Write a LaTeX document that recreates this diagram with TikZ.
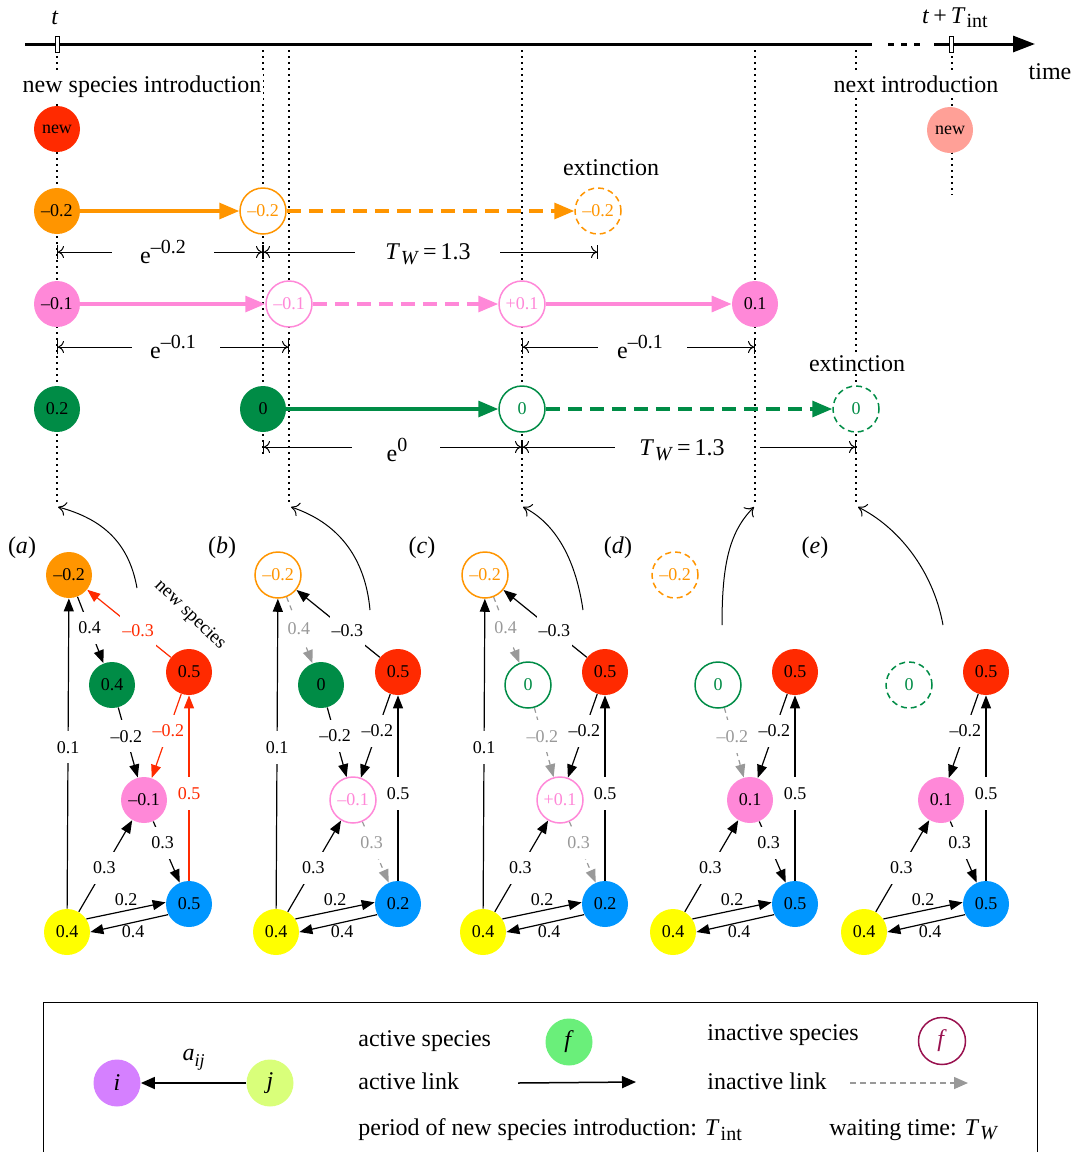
\documentclass[tikz,border=0pt]{standalone}
\usepackage{fontspec}
\setmainfont{Liberation Serif}
\usetikzlibrary{arrows.meta}
\definecolor{cOr}{HTML}{FF9500}
\definecolor{cRed}{HTML}{FF2A00}
\definecolor{cPk}{HTML}{FF88D8}
\definecolor{cGr}{HTML}{008C46}
\definecolor{cBl}{HTML}{0096FF}
\definecolor{cYe}{HTML}{FFFF00}
\definecolor{cNew}{HTML}{FFA097}
\definecolor{cIn}{HTML}{999999}
\definecolor{cPu}{HTML}{D580FF}
\definecolor{cJ}{HTML}{D9FF7A}
\definecolor{cF}{HTML}{6AEF7A}
\definecolor{cMa}{HTML}{99114F}
\newcommand{\fsN}{\fontsize{9}{10}\selectfont}
\newcommand{\fsL}{\fontsize{12}{14}\selectfont}
\newcommand{\myTw}{\textit{T}\kern0.3pt\raisebox{-0.4ex}{\fontsize{10}{12}\selectfont\textit{W}}}
\newcommand{\myTint}{\textit{T}\kern0.5pt\raisebox{-0.4ex}{\fontsize{10}{12}\selectfont int}}
\newcommand{\myExp}[1]{e\raisebox{0.9ex}{\fontsize{10}{12}\selectfont #1}}
\tikzset{
 sp/.style={circle, minimum size=23pt, inner sep=0pt, font=\fsN},
 fs/.style={sp, fill=#1, draw=none, text=black},
 os/.style={sp, fill=white, draw=#1, text=#1, line width=0.75pt},
 ds/.style={os=#1, dash pattern=on 3pt off 2pt},
 lbl/.style={font=\fsL, inner sep=1pt},
 wlbl/.style={lbl, fill=white},
 tline/.style={line width=1.6pt, -{Triangle[length=10pt,width=8pt]}},
 tdash/.style={tline, dash pattern=on 7pt off 4pt},
 vdot/.style={line width=0.6pt, dash pattern=on 0.8pt off 2.2pt},
 dimL/.style={line width=0.5pt, {Bar[width=7pt,sep=0pt]To[length=3pt,width=6pt]}-},
 dimR/.style={line width=0.5pt, -{To[length=3pt,width=6pt]Bar[width=7pt,sep=0pt]}},
 ed/.style={line width=0.6pt, -{Triangle[length=6.5pt,width=5pt]}},
 ined/.style={ed, cIn, dash pattern=on 2.5pt off 2pt},
 el/.style={font=\fsN, fill=white, inner xsep=1pt, inner ysep=5pt},
 elb/.style={font=\fsN, inner sep=1pt},
 curv/.style={line width=0.5pt, -{To[length=4pt,width=7pt]}},
}
\begin{document}
\begin{tikzpicture}[x=0.5pt,y=-0.5pt]
\useasboundingbox (0,0) rectangle (1075,1152);
% ---------- axis ----------
\coordinate (ax0) at (25,44);
\coordinate (ax1) at (872,44);
\coordinate (ad0) at (888,44);
\coordinate (ad1) at (923,44);
\coordinate (ax2) at (934,44);
\coordinate (ax3) at (1035,44);
\draw[line width=1.5pt] (ax0) -- (ax1);
\draw[line width=1.5pt, dash pattern=on 3pt off 3.5pt] (ad0) -- (ad1);
\draw[line width=1.5pt, -{Triangle[length=11pt,width=8pt]}] (ax2) -- (ax3);
% ---------- dotted verticals ----------
\foreach \x/\yb in {57/505, 263/455, 289/505, 522/505, 755/505, 856/505, 952/195}{
  \coordinate (vt\x) at (\x,44);
  \coordinate (vb\x) at (\x,\yb);
  \draw[vdot] (vt\x) -- (vb\x);
}
\node[draw, fill=white, minimum width=2pt, minimum height=8pt, inner sep=0pt, line width=0.5pt] (tk1) at (57,44) {};
\node[draw, fill=white, minimum width=2pt, minimum height=8pt, inner sep=0pt, line width=0.5pt] (tk2) at (951,44) {};
\node[lbl] (tlab) at (55,18) {\textit{t}};
\node[lbl] (tTlab) at (955,18) {\textit{t}\,+\,\myTint};
\node[lbl] (time) at (1050,72) {time};
\node[wlbl] (nsi) at (142,87) {new species introduction};
\node[wlbl] (nxi) at (916,84) {next introduction};
\node[wlbl] (ext1) at (611,168) {extinction};
\node[wlbl] (ext2) at (857,364) {extinction};
% ---------- timeline species ----------
\node[fs=cRed] (n1) at (57,129) {new};
\node[fs=cNew] (n2) at (950,130) {new};
\node[fs=cOr] (o1) at (57,211) {--0.2};
\node[os=cOr] (o2) at (263,211) {--0.2};
\node[ds=cOr] (o3) at (598,211) {--0.2};
\node[fs=cPk] (p1) at (57,304) {--0.1};
\node[os=cPk] (p2) at (289,304) {--0.1};
\node[os=cPk] (p3) at (522,304) {+0.1};
\node[fs=cPk] (p4) at (755,304) {0.1};
\node[fs=cGr] (g1) at (57,409) {0.2};
\node[fs=cGr] (g2) at (263,409) {0};
\node[os=cGr] (g3) at (522,409) {0};
\node[ds=cGr] (g4) at (856,409) {0};
\draw[tline, cOr] (o1) -- (o2);
\draw[tdash, cOr] (o2) -- (o3);
\draw[tline, cPk] (p1) -- (p2);
\draw[tdash, cPk] (p2) -- (p3);
\draw[tline, cPk] (p3) -- (p4);
\draw[tline, cGr] (g2) -- (g3);
\draw[tdash, cGr] (g3) -- (g4);
% ---------- dimensions ----------
\coordinate (d1a) at (57,252);  \coordinate (d1b) at (112,252);
\coordinate (d1c) at (214,252); \coordinate (d1d) at (263,252);
\node[lbl] (d1l) at (163,252) {\myExp{--0.2}};
\draw[dimL] (d1a) -- (d1b); \draw[dimR] (d1c) -- (d1d);
\coordinate (d2a) at (263,252); \coordinate (d2b) at (355,252);
\coordinate (d2c) at (500,252); \coordinate (d2d) at (598,252);
\node[lbl] (d2l) at (428,254) {\myTw\,=\,1.3};
\draw[dimL] (d2a) -- (d2b); \draw[dimR] (d2c) -- (d2d);
\coordinate (d3a) at (57,347);  \coordinate (d3b) at (132,347);
\coordinate (d3c) at (220,347); \coordinate (d3d) at (289,347);
\node[lbl] (d3l) at (173,347) {\myExp{--0.1}};
\draw[dimL] (d3a) -- (d3b); \draw[dimR] (d3c) -- (d3d);
\coordinate (d4a) at (522,347); \coordinate (d4b) at (598,347);
\coordinate (d4c) at (687,347); \coordinate (d4d) at (755,347);
\node[lbl] (d4l) at (640,347) {\myExp{--0.1}};
\draw[dimL] (d4a) -- (d4b); \draw[dimR] (d4c) -- (d4d);
\coordinate (d5a) at (263,447); \coordinate (d5b) at (352,447);
\coordinate (d5c) at (440,447); \coordinate (d5d) at (522,447);
\node[lbl] (d5l) at (397,450) {\myExp{0}};
\draw[dimL] (d5a) -- (d5b); \draw[dimR] (d5c) -- (d5d);
\coordinate (d6a) at (522,447); \coordinate (d6b) at (615,447);
\coordinate (d6c) at (760,447); \coordinate (d6d) at (856,447);
\node[lbl] (d6l) at (682,450) {\myTw\,=\,1.3};
\draw[dimL] (d6a) -- (d6b); \draw[dimR] (d6c) -- (d6d);
% ---------- curved arrows ----------
\coordinate (ca0) at (137,588); \coordinate (ca1) at (58,507);
\coordinate (cb0) at (370,610); \coordinate (cb1) at (291,507);
\coordinate (cc0) at (583,610); \coordinate (cc1) at (523,507);
\coordinate (cd0) at (722,625); \coordinate (cd1) at (754,507);
\coordinate (ce0) at (943,625); \coordinate (ce1) at (858,507);
\draw[curv] (ca0) .. controls +(-8,-45) and +(45,12) .. (ca1);
\draw[curv] (cb0) .. controls +(-5,-55) and +(45,15) .. (cb1);
\draw[curv] (cc0) .. controls +(-8,-55) and +(30,15) .. (cc1);
\draw[curv] (cd0) .. controls +(0,-60) and +(-25,25) .. (cd1);
\draw[curv] (ce0) .. controls +(-10,-55) and +(40,20) .. (ce1);
% ---------- panel labels ----------
\node[lbl] (pa) at (22,548) {(\textit{a})};
\node[lbl] (pb) at (222,548) {(\textit{b})};
\node[lbl] (pc) at (422,548) {(\textit{c})};
\node[lbl] (pd) at (618,548) {(\textit{d})};
\node[lbl] (pe) at (815,548) {(\textit{e})};
% ---------- panel a ----------
\node[fs=cOr] (a-or) at (69,575) {--0.2};
\node[fs=cGr] (a-gr) at (112,685) {0.4};
\node[fs=cRed] (a-rd) at (189,672) {0.5};
\node[fs=cPk] (a-pk) at (144,800) {--0.1};
\node[fs=cBl] (a-bl) at (189,904) {0.5};
\node[fs=cYe] (a-ye) at (67,932) {0.4};
\node[font=\fontsize{9.5}{11}\selectfont, rotate=-44] (a-ns) at (190,615) {new species};
\draw[ed] (a-ye) -- node[el,pos=0.52]{0.1} (a-or);
\draw[ed] (a-or) -- node[el,pos=0.47]{0.4} (a-gr);
\draw[ed,cRed] (a-rd) -- node[el,pos=0.39]{--0.3} (a-or);
\draw[ed] (a-gr) -- node[el,pos=0.41]{--0.2} (a-pk);
\draw[ed,cRed] (a-rd) -- node[el,pos=0.44]{--0.2} (a-pk);
\draw[ed,cRed] (a-bl) -- node[el,pos=0.47]{0.5} (a-rd);
\draw[ed] (a-pk) -- node[el,pos=0.35]{0.3} (a-bl);
\draw[ed] (a-ye) -- node[el,pos=0.48]{0.3} (a-pk);
\draw[ed] (a-ye.34) -- node[elb,above=1pt,pos=0.5]{0.2} (a-bl.176);
\draw[ed] (a-bl.207) -- node[elb,below=0pt,pos=0.45]{0.4} (a-ye.0);
% ---------- panel b ----------
\begin{scope}[shift={(209,0)}]
\node[os=cOr] (b-or) at (69,575) {--0.2};
\node[fs=cGr] (b-gr) at (112,685) {0};
\node[fs=cRed] (b-rd) at (189,672) {0.5};
\node[os=cPk] (b-pk) at (144,800) {--0.1};
\node[fs=cBl] (b-bl) at (189,904) {0.2};
\node[fs=cYe] (b-ye) at (67,932) {0.4};
\draw[ed] (b-ye) -- node[el,pos=0.52]{0.1} (b-or);
\draw[ined] (b-or) -- node[el,pos=0.47,text=cIn]{0.4} (b-gr);
\draw[ed] (b-rd) -- node[el,pos=0.39]{--0.3} (b-or);
\draw[ed] (b-gr) -- node[el,pos=0.41]{--0.2} (b-pk);
\draw[ed] (b-rd) -- node[el,pos=0.44]{--0.2} (b-pk);
\draw[ed] (b-bl) -- node[el,pos=0.47]{0.5} (b-rd);
\draw[ined] (b-pk) -- node[el,pos=0.35,text=cIn]{0.3} (b-bl);
\draw[ed] (b-ye) -- node[el,pos=0.48]{0.3} (b-pk);
\draw[ed] (b-ye.34) -- node[elb,above=1pt,pos=0.5]{0.2} (b-bl.176);
\draw[ed] (b-bl.207) -- node[elb,below=0pt,pos=0.45]{0.4} (b-ye.0);
\end{scope}
% ---------- panel c ----------
\begin{scope}[shift={(416,0)}]
\node[os=cOr] (c-or) at (69,575) {--0.2};
\node[os=cGr] (c-gr) at (112,685) {0};
\node[fs=cRed] (c-rd) at (189,672) {0.5};
\node[os=cPk] (c-pk) at (144,800) {+0.1};
\node[fs=cBl] (c-bl) at (189,904) {0.2};
\node[fs=cYe] (c-ye) at (67,932) {0.4};
\draw[ed] (c-ye) -- node[el,pos=0.52]{0.1} (c-or);
\draw[ined] (c-or) -- node[el,pos=0.47,text=cIn]{0.4} (c-gr);
\draw[ed] (c-rd) -- node[el,pos=0.39]{--0.3} (c-or);
\draw[ined] (c-gr) -- node[el,pos=0.41,text=cIn]{--0.2} (c-pk);
\draw[ed] (c-rd) -- node[el,pos=0.44]{--0.2} (c-pk);
\draw[ed] (c-bl) -- node[el,pos=0.47]{0.5} (c-rd);
\draw[ined] (c-pk) -- node[el,pos=0.35,text=cIn]{0.3} (c-bl);
\draw[ed] (c-ye) -- node[el,pos=0.48]{0.3} (c-pk);
\draw[ed] (c-ye.34) -- node[elb,above=1pt,pos=0.5]{0.2} (c-bl.176);
\draw[ed] (c-bl.207) -- node[elb,below=0pt,pos=0.45]{0.4} (c-ye.0);
\end{scope}
% ---------- panel d ----------
\begin{scope}[shift={(606,0)}]
\node[ds=cOr] (d-or) at (69,575) {--0.2};
\node[os=cGr] (d-gr) at (112,685) {0};
\node[fs=cRed] (d-rd) at (189,672) {0.5};
\node[fs=cPk] (d-pk) at (144,800) {0.1};
\node[fs=cBl] (d-bl) at (189,904) {0.5};
\node[fs=cYe] (d-ye) at (67,932) {0.4};
\draw[ined] (d-gr) -- node[el,pos=0.41,text=cIn]{--0.2} (d-pk);
\draw[ed] (d-rd) -- node[el,pos=0.44]{--0.2} (d-pk);
\draw[ed] (d-bl) -- node[el,pos=0.47]{0.5} (d-rd);
\draw[ed] (d-pk) -- node[el,pos=0.35]{0.3} (d-bl);
\draw[ed] (d-ye) -- node[el,pos=0.48]{0.3} (d-pk);
\draw[ed] (d-ye.34) -- node[elb,above=1pt,pos=0.5]{0.2} (d-bl.176);
\draw[ed] (d-bl.207) -- node[elb,below=0pt,pos=0.45]{0.4} (d-ye.0);
\end{scope}
% ---------- panel e ----------
\begin{scope}[shift={(797,0)}]
\node[ds=cGr] (e-gr) at (112,685) {0};
\node[fs=cRed] (e-rd) at (189,672) {0.5};
\node[fs=cPk] (e-pk) at (144,800) {0.1};
\node[fs=cBl] (e-bl) at (189,904) {0.5};
\node[fs=cYe] (e-ye) at (67,932) {0.4};
\draw[ed] (e-rd) -- node[el,pos=0.44]{--0.2} (e-pk);
\draw[ed] (e-bl) -- node[el,pos=0.47]{0.5} (e-rd);
\draw[ed] (e-pk) -- node[el,pos=0.35]{0.3} (e-bl);
\draw[ed] (e-ye) -- node[el,pos=0.48]{0.3} (e-pk);
\draw[ed] (e-ye.34) -- node[elb,above=1pt,pos=0.5]{0.2} (e-bl.176);
\draw[ed] (e-bl.207) -- node[elb,below=0pt,pos=0.45]{0.4} (e-ye.0);
\end{scope}
% ---------- legend ----------
\coordinate (bx1) at (43,1153); \coordinate (bx2) at (43,1002);
\coordinate (bx3) at (1037,1002); \coordinate (bx4) at (1037,1153);
\draw[line width=0.5pt] (bx1) -- (bx2) -- (bx3) -- (bx4);
\node[fs=cPu, minimum size=23.5pt, font=\fsL] (li) at (117,1083) {\textit{i}};
\node[fs=cJ, minimum size=23.5pt, font=\fsL] (lj) at (270,1083) {\textit{j}};
\draw[line width=0.9pt, -{Triangle[length=7pt,width=6pt]}] (lj) -- node[lbl, above=5pt] {\textit{a}\raisebox{-0.5ex}{\fontsize{9}{10}\selectfont\textit{ij}}} (li);
\node[lbl, anchor=west] (tas) at (356,1041) {active species};
\node[lbl, anchor=west] (tal) at (356,1081) {active link};
\node[lbl, anchor=west] (tis) at (705,1035) {inactive species};
\node[lbl, anchor=west] (til) at (705,1081) {inactive link};
\node[lbl, anchor=west] (tpr) at (356,1130) {period of new species introduction: \myTint};
\node[lbl, anchor=west] (twt) at (827,1130) {waiting time: \myTw};
\node[fs=cF, minimum size=23.5pt, font=\fsL] (lf1) at (569,1042) {\textit{f}};
\node[os=cMa, minimum size=23.5pt, font=\fsL] (lf2) at (942,1041) {\textit{f}};
\coordinate (al0) at (518,1083); \coordinate (al1) at (636,1082);
\draw[line width=0.75pt, -{Triangle[length=7pt,width=6pt]}] (al0) -- (al1);
\coordinate (il0) at (850,1083); \coordinate (il1) at (968,1083);
\draw[line width=0.75pt, cIn, dash pattern=on 3pt off 2pt, -{Triangle[length=7pt,width=6pt]}] (il0) -- (il1);
\end{tikzpicture}
\end{document}
